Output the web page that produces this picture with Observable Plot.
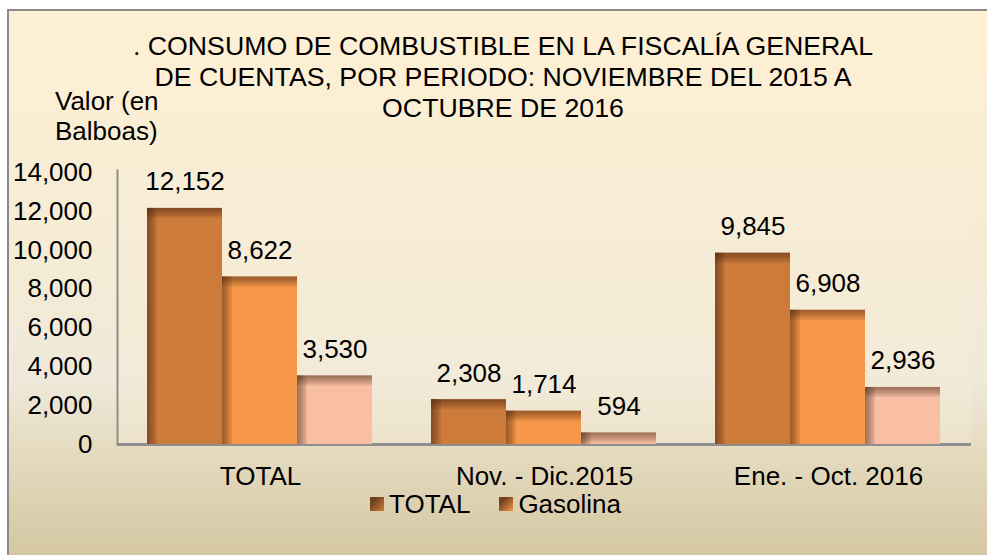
<!DOCTYPE html>
<html>
<head>
<meta charset="utf-8">
<script src="https://cdn.jsdelivr.net/npm/d3@7"></script>
<script src="https://cdn.jsdelivr.net/npm/@observablehq/plot@0.6"></script>
<style>
  html, body { margin: 0; padding: 0; background: #ffffff; }
  #chart {
    position: relative; width: 987px; height: 555px; overflow: hidden;
    font-family: "Liberation Sans", Arial, sans-serif; color: #000;
  }
  #bg {
    position: absolute; left: 7px; top: 9px; width: 1000px; height: 560px;
    border-left: 2px solid #8a8a8a; border-top: 2px solid #8a8a8a;
    background: linear-gradient(to bottom, #fef0d4 0%, #f6ecd4 40%, #efe9da 66%, #e3d9bd 80%, #d2c49e 100%);
  }
  .layer { position: absolute; left: 0; top: 0; }
  #title {
    position: absolute; left: 503px; top: 31px; transform: translateX(-50%);
    white-space: nowrap; text-align: center; font-size: 26.7px; line-height: 31px;
  }
  #ylabel {
    position: absolute; left: 55px; top: 86px; font-size: 26px; line-height: 30px; white-space: nowrap;
  }
  #legend {
    position: absolute; left: 370px; top: 489px; display: flex; align-items: center;
    font-size: 26px; line-height: 30px; white-space: nowrap;
  }
  .sw { width: 14px; height: 14px; display: inline-block; margin-right: 5px; }
  .item { display: flex; align-items: center; margin-right: 29px; }
</style>
</head>
<body>
<div id="chart">
  <div id="bg"></div>
  <div id="axesHolder" class="layer"></div>
  <div id="barsHolder" class="layer"></div>
  <div id="title"></div>
  <div id="ylabel"></div>
  <div id="legend"></div>
</div>
<script>
// ---- Data ----
const titleLines = [". CONSUMO DE COMBUSTIBLE EN LA FISCALÍA GENERAL", "DE CUENTAS, POR PERIODO: NOVIEMBRE DEL 2015 A", "OCTUBRE DE 2016"];
const yLabelLines = ["Valor (en", "Balboas)"];
const categories = ["TOTAL", "Nov. - Dic.2015", "Ene. - Oct. 2016"];
const series = ["TOTAL", "Gasolina", "Diésel"];
const legendSeries = ["TOTAL", "Gasolina"];
const totalValues = [12152, 2308, 9845];
const gasolinaValues = [8622, 1714, 6908];
const dieselValues = [3530, 594, 2936];
const yTicks = [0, 2000, 4000, 6000, 8000, 10000, 12000, 14000];
const seriesColors = ["#cd7b3b", "#f6974a", "#f9bfa5"];
const shadeColor = "#3b1c05";
const legendDark = "#6e4120";

const valuesBySeries = [totalValues, gasolinaValues, dieselValues];
const data = categories.flatMap((cat, i) =>
  series.map((s, j) => ({cat, serie: s, value: valuesBySeries[j][i]}))
);
const fmt = d3.format(",");

// ---- Text ----
document.getElementById("title").innerHTML = titleLines.join("<br>");
document.getElementById("ylabel").innerHTML = yLabelLines.join("<br>");
const legend = d3.select("#legend");
legendSeries.forEach(s => {
  const c = seriesColors[series.indexOf(s)];
  const it = legend.append("div").attr("class", "item");
  it.append("span").attr("class", "sw")
    .style("background", `linear-gradient(135deg, ${legendDark} 0%, ${legendDark} 25%, ${c} 100%)`);
  it.append("span").text(s);
});

// ---- Shared layout ----
const W = 987, H = 555;
const margins = {marginLeft: 117, marginRight: 16, marginTop: 172, marginBottom: 111};
const styleOpts = {background: "transparent", fontFamily: "'Liberation Sans', Arial, sans-serif", fontSize: "26px", color: "#000", overflow: "visible"};
const bandOpts = {domain: categories, paddingInner: 0.2, paddingOuter: 0.1};
const yOpts = {domain: [0, 14000]};

// ---- Axes layer ----
const axes = Plot.plot({
  width: W, height: H, ...margins, style: styleOpts,
  x: {...bandOpts, axis: null},
  y: {...yOpts, axis: null},
  marks: [
    Plot.frame({fill: "#f8eed6", fillOpacity: 0.35, stroke: null, insetTop: -2}),
    Plot.axisY({ticks: yTicks, tickFormat: d => fmt(d), tickSize: 0, tickPadding: 25, fontSize: 26, label: null, fill: "#000"}),
    Plot.axisX({tickSize: 0, tickPadding: 22, fontSize: 26, label: null, fill: "#000"}),
    Plot.frame({anchor: "left", stroke: "#8e8e8e", strokeWidth: 2, insetTop: -2}),
    Plot.ruleY([0], {stroke: "#8e8e8e", strokeWidth: 3})
  ]
});
document.getElementById("axesHolder").appendChild(axes);

// ---- Bars layer (grouped via fx facets) ----
const barsOpts = {
  width: W, height: H, ...margins, style: styleOpts,
  fx: {...bandOpts, axis: null, label: null},
  x: {domain: series, padding: 0, axis: null},
  y: {...yOpts, axis: null},
  color: {domain: series, range: seriesColors}
};
const baseMarks = [Plot.barY(data, {fx: "cat", x: "serie", y: "value", fill: "serie"})];
// read the bar width from Plot's own x scale
const probe = Plot.plot({...barsOpts, marks: baseMarks});
const bw = probe.scale("x").bandwidth;

// bevel-like inner shading: thin translucent strips along the left and top edges of each bar
const shadeSteps = [2, 4, 6, 8, 10];
const leftShade = shadeSteps.map(k =>
  Plot.barY(data, {fx: "cat", x: "serie", y: "value", insetRight: bw - k, fill: shadeColor, fillOpacity: 0.11}));
const topShade = shadeSteps.map(k =>
  Plot.barY(data, {fx: "cat", x: "serie", y1: "value", y2: "value", insetBottom: -k, fill: shadeColor, fillOpacity: 0.11}));

const bars = Plot.plot({
  ...barsOpts,
  marks: [
    ...baseMarks,
    ...leftShade,
    ...topShade,
    Plot.text(data, {fx: "cat", x: "serie", y: "value", text: d => fmt(d.value), lineAnchor: "bottom", dy: -18, fontSize: 26, fill: "#000"})
  ]
});
document.getElementById("barsHolder").appendChild(bars);
</script>
</body>
</html>
